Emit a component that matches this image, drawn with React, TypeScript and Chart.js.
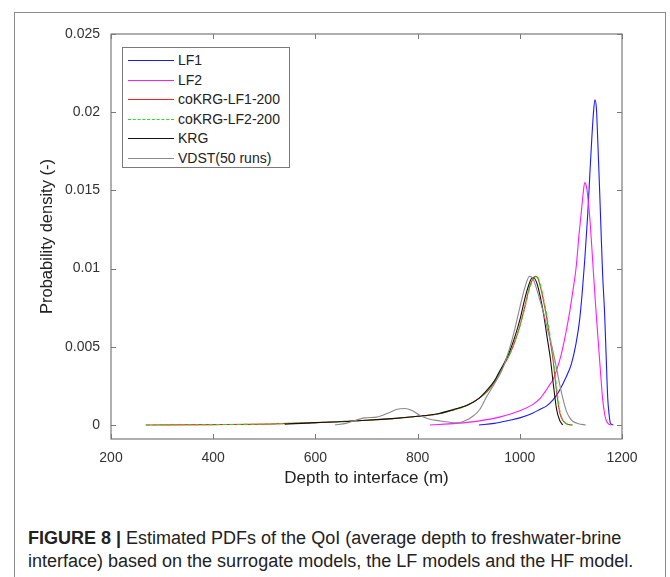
import React, { useEffect, useRef } from "react";
import { Chart, registerables } from "chart.js";

Chart.register(...registerables);

const xTicks = [200, 400, 600, 800, 1000, 1200];
const yTicks = [0, 0.005, 0.01, 0.015, 0.02, 0.025];

const lf1X = [920, 950, 980, 1000, 1025, 1040, 1052, 1065, 1074, 1084, 1094, 1101, 1110, 1117, 1122, 1127, 1133, 1137, 1140, 1144, 1147, 1150, 1153, 1156, 1159, 1162, 1166, 1169, 1172, 1175, 1177, 1180, 1183];
const lf1Y = [0, 0.0001, 0.0003, 0.00045, 0.00075, 0.001, 0.0012, 0.0016, 0.002, 0.0026, 0.0033, 0.0039, 0.0052, 0.0067, 0.0084, 0.0105, 0.0135, 0.016, 0.0178, 0.0199, 0.0208, 0.0202, 0.0178, 0.0152, 0.0124, 0.0097, 0.0071, 0.0044, 0.00175, 0.0006, 0.00015, 0.00003, 0];

const lf2X = [824, 876, 921, 960, 1000, 1025, 1040, 1049, 1057, 1065, 1073, 1081, 1089, 1097, 1104, 1110, 1116, 1120, 1124, 1127, 1130, 1133, 1138, 1143, 1148, 1152, 1157, 1162, 1166, 1169, 1174, 1179];
const lf2Y = [0, 0.0001, 0.00026, 0.0005, 0.0009, 0.0013, 0.0017, 0.0021, 0.0025, 0.0029, 0.0036, 0.0045, 0.0057, 0.0071, 0.0086, 0.01, 0.0122, 0.0135, 0.0148, 0.0155, 0.0153, 0.0146, 0.0128, 0.0103, 0.0078, 0.006, 0.0038, 0.0017, 0.0007, 0.0003, 0.00005, 0];

const co1X = [268, 400, 500, 550, 600, 650, 700, 750, 800, 840, 870, 900, 920, 935, 950, 960, 970, 980, 990, 1000, 1010, 1019, 1025, 1030, 1035, 1042, 1049, 1055, 1060, 1065, 1071, 1078, 1085, 1091, 1097, 1103];
const co1Y = [0, 0.00002, 0.00005, 0.0001, 0.00015, 0.00022, 0.0003, 0.0004, 0.00055, 0.0007, 0.00095, 0.0013, 0.0017, 0.0021, 0.0027, 0.0033, 0.0039, 0.0045, 0.0053, 0.0063, 0.0076, 0.0088, 0.0093, 0.0095, 0.0094, 0.0086, 0.0075, 0.0064, 0.0053, 0.0042, 0.0024, 0.0008, 0.00025, 0.00007, 0.00002, 0];

const co2X = [268, 400, 500, 550, 600, 650, 700, 750, 800, 840, 870, 900, 920, 935, 950, 960, 970, 980, 990, 1000, 1010, 1019, 1026, 1031, 1036, 1043, 1050, 1056, 1061, 1066, 1072, 1079, 1086, 1092, 1098, 1103];
const co2Y = [0, 0.00002, 0.00005, 0.0001, 0.00015, 0.00022, 0.0003, 0.0004, 0.00055, 0.0007, 0.00095, 0.0013, 0.0017, 0.0021, 0.0027, 0.0033, 0.0039, 0.0045, 0.0053, 0.0063, 0.0075, 0.0087, 0.0093, 0.0095, 0.0094, 0.0086, 0.0075, 0.0064, 0.0053, 0.0042, 0.0024, 0.0008, 0.00025, 0.00007, 0.00002, 0];

const krgX = [540, 600, 650, 700, 750, 800, 840, 870, 900, 920, 935, 950, 960, 970, 980, 990, 1000, 1010, 1018, 1024, 1028, 1034, 1040, 1047, 1053, 1060, 1066, 1072, 1078, 1084];
const krgY = [0.00005, 0.00015, 0.0002, 0.0003, 0.0004, 0.00055, 0.00072, 0.00098, 0.0013, 0.0017, 0.0022, 0.0028, 0.0034, 0.004, 0.0047, 0.0056, 0.0067, 0.0081, 0.009, 0.0094, 0.0094, 0.009, 0.0082, 0.007, 0.0057, 0.0042, 0.0025, 0.001, 0.0003, 0];

const vdstX = [638, 660, 697, 720, 745, 760, 775, 790, 805, 820, 845, 876, 895, 910, 922, 935, 950, 965, 980, 990, 1000, 1010, 1019, 1025, 1032, 1040, 1047, 1055, 1065, 1072, 1078, 1085, 1091, 1097, 1103, 1115, 1129];
const vdstY = [0, 0.0001, 0.00045, 0.0005, 0.0008, 0.001, 0.00105, 0.0009, 0.0006, 0.0004, 0.00025, 0.00013, 0.0003, 0.0006, 0.001, 0.0018, 0.0026, 0.0035, 0.0049, 0.0061, 0.0075, 0.0088, 0.0095, 0.0094, 0.0088, 0.0079, 0.0071, 0.006, 0.0047, 0.0036, 0.0026, 0.0016, 0.0009, 0.0005, 0.00025, 0.00007, 0];

const seriesNames = ["LF1", "LF2", "coKRG-LF1-200", "coKRG-LF2-200", "KRG", "VDST(50 runs)"];
const seriesColors = ["#1a1aff", "#ff1aff", "#ff2020", "#20e020", "#111111", "#8a8a8a"];
const seriesDash = [[], [], [], [4, 3], [], []];

const pts = (xs: number[], ys: number[]) => xs.map((x, i) => ({ x, y: ys[i] }));
const seriesData = [pts(lf1X, lf1Y), pts(lf2X, lf2Y), pts(co1X, co1Y), pts(co2X, co2Y), pts(krgX, krgY), pts(vdstX, vdstY)];

const AXIS = "#7a7a7a";
const FONT = "'Liberation Sans', Arial, sans-serif";

const boxPlugin = {
  id: "boxTicks",
  afterDraw(chart: any) {
    const { ctx, chartArea: a, scales } = chart;
    ctx.save();
    ctx.strokeStyle = AXIS;
    ctx.lineWidth = 1.2;
    ctx.strokeRect(a.left, a.top, a.right - a.left, a.bottom - a.top);
    const L = 5;
    ctx.beginPath();
    for (const v of xTicks) {
      const px = Math.round(scales.x.getPixelForValue(v)) + 0.5;
      ctx.moveTo(px, a.bottom); ctx.lineTo(px, a.bottom - L);
      ctx.moveTo(px, a.top); ctx.lineTo(px, a.top + L);
    }
    for (const v of yTicks) {
      const py = Math.round(scales.y.getPixelForValue(v)) + 0.5;
      ctx.moveTo(a.left, py); ctx.lineTo(a.left + L, py);
      ctx.moveTo(a.right, py); ctx.lineTo(a.right - L, py);
    }
    ctx.lineWidth = 1;
    ctx.stroke();
    ctx.restore();
  },
};

export default function App() {
  const ref = useRef<HTMLCanvasElement>(null);
  useEffect(() => {
    if (!ref.current) return;
    const chart = new Chart(ref.current, {
      type: "line",
      data: {
        datasets: seriesData.map((d, i) => ({
          label: seriesNames[i],
          data: d,
          borderColor: seriesColors[i],
          backgroundColor: seriesColors[i],
          borderDash: seriesDash[i],
          borderWidth: 1.1,
          pointRadius: 0,
          fill: false,
          cubicInterpolationMode: "monotone" as const,
          order: 6 - i,
        })),
      },
      options: {
        animation: false,
        responsive: false,
        devicePixelRatio: 1,
        layout: { padding: { left: 0, top: 34, right: 48, bottom: 0 } },
        plugins: { legend: { display: false }, tooltip: { enabled: false } },
        scales: {
          x: {
            type: "linear",
            min: 200,
            max: 1200,
            afterFit: (s: any) => { s.height = 61; },
            afterBuildTicks: (s: any) => { s.ticks = xTicks.map((v) => ({ value: v })); },
            grid: { display: false, drawTicks: false },
            border: { display: false },
            ticks: { padding: 11, color: "#333", font: { family: FONT, size: 14 }, maxRotation: 0, callback: (v: any) => String(v) },
            title: { display: true, text: "Depth to interface (m)", color: "#222", font: { family: FONT, size: 17 }, padding: { top: 0, bottom: 11 } },
          },
          y: {
            type: "linear",
            min: -0.0009,
            max: 0.025,
            afterFit: (s: any) => { s.width = 111; },
            afterBuildTicks: (s: any) => { s.ticks = yTicks.map((v) => ({ value: v })); },
            grid: { display: false, drawTicks: false },
            border: { display: false },
            ticks: { padding: 11, color: "#333", font: { family: FONT, size: 14 }, callback: (v: any) => String(v) },
            title: { display: true, text: "Probability density (-)", color: "#222", font: { family: FONT, size: 16.5 }, padding: { top: 38, bottom: 0 } },
          },
        },
      },
      plugins: [boxPlugin],
    });
    return () => chart.destroy();
  }, []);

  const rowTop = 50;
  const rowH = 19.5;
  return (
    <div style={{ position: "absolute", left: 0, top: 0, width: 670, height: 577, overflow: "hidden", background: "#fff", fontFamily: FONT }}>
      <div style={{ position: "absolute", left: 14, top: 12, width: 652, height: 580, border: "1.5px solid #8a8a8a", boxSizing: "border-box" }} />
      <canvas ref={ref} width={670} height={500} style={{ position: "absolute", left: 0, top: 0, width: 670, height: 500 }} />
      <div style={{ position: "absolute", left: 122, top: 47, width: 168, height: 121, border: "1px solid #7a7a7a", boxSizing: "border-box", background: "#fff" }}>
        {seriesNames.map((n, i) => (
          <div key={n} style={{ position: "absolute", left: 0, top: rowTop - 47 + i * rowH, height: 18, width: 166 }}>
            <div
              style={{
                position: "absolute",
                left: 5,
                top: 9,
                width: 46,
                height: 0,
                borderTop: `1px ${seriesDash[i].length ? "dashed" : "solid"} ${seriesColors[i]}`,
              }}
            />
            <span style={{ position: "absolute", left: 55, top: 0, lineHeight: "18px", fontSize: 14, color: "#222", whiteSpace: "nowrap" }}>{n}</span>
          </div>
        ))}
      </div>
      <div style={{ position: "absolute", left: 28, top: 527, width: 640, fontSize: 18, lineHeight: "23px", color: "#222", whiteSpace: "nowrap" }}>
        <div><b>FIGURE 8 |</b> Estimated PDFs of the QoI (average depth to freshwater-brine</div>
        <div>interface) based on the surrogate models, the LF models and the HF model.</div>
      </div>
    </div>
  );
}
